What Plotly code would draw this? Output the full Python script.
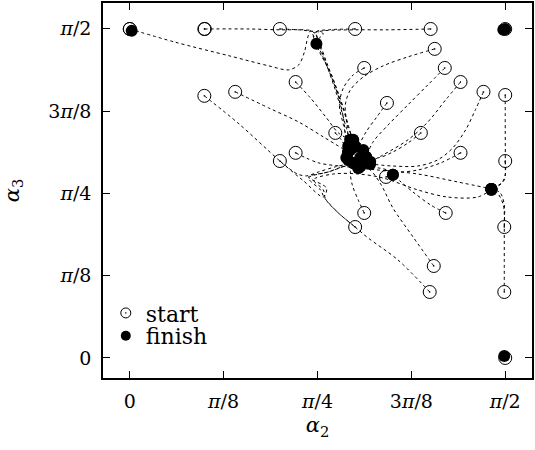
import math
import plotly.graph_objects as go

PI = math.pi

# ---- tick labels ----
tick_vals = [0, PI / 8, PI / 4, 3 * PI / 8, PI / 2]
tick_text = ["0", "<i>π</i>/8", "<i>π</i>/4", "3<i>π</i>/8", "<i>π</i>/2"]

# ---- trajectories (alpha2, alpha3) ----
A_x = [0.0, 0.187, 0.416, 0.582, 0.665, 0.707, 0.731, 0.744, 0.756, 0.773, 0.810, 0.852, 0.881, 0.898, 0.906]
A_y = [1.570, 1.508, 1.442, 1.394, 1.375, 1.399, 1.461, 1.527, 1.561, 1.527, 1.432, 1.317, 1.217, 1.112, 0.955]
B_x = [0.312, 0.499, 0.628, 0.727, 0.761, 0.781, 0.798, 0.831, 0.860, 0.885, 0.906, 0.923]
B_y = [1.570, 1.570, 1.566, 1.566, 1.561, 1.537, 1.480, 1.375, 1.279, 1.184, 1.098, 1.041]
C_x = [0.628, 0.707, 0.748, 0.790, 0.810, 0.786, 0.781]
C_y = [1.570, 1.566, 1.561, 1.556, 1.547, 1.518, 1.499]
D_x = [0.943, 0.831, 0.781, 0.798, 0.823, 0.860, 0.894, 0.914, 0.943]
D_y = [1.570, 1.566, 1.556, 1.494, 1.413, 1.303, 1.193, 1.112, 1.007]
E_x = [1.259, 1.081, 0.943, 0.810, 0.769, 0.790, 0.844, 0.873, 0.906, 0.914]
E_y = [1.570, 1.566, 1.566, 1.561, 1.547, 1.470, 1.351, 1.255, 1.136, 0.983]
F_x = [1.276, 1.164, 1.060, 0.977, 0.923, 0.902, 0.911, 0.935, 0.964]
F_y = [1.475, 1.437, 1.394, 1.341, 1.279, 1.208, 1.112, 1.041, 0.955]
G_x = [0.981, 0.935, 0.894, 0.877, 0.894, 0.914]
G_y = [1.384, 1.351, 1.289, 1.208, 1.112, 1.012]
H_x = [1.318, 1.247, 1.164, 1.081, 1.018, 0.989]
H_y = [1.384, 1.303, 1.208, 1.112, 1.031, 0.959]
I_x = [1.384, 1.322, 1.247, 1.164, 1.060, 1.006]
I_y = [1.317, 1.232, 1.126, 1.041, 0.969, 0.936]
J_x = [1.480, 1.446, 1.405, 1.351, 1.288, 1.205, 1.101, 1.006]
J_y = [1.270, 1.184, 1.088, 1.002, 0.945, 0.916, 0.916, 0.926]
K_x = [1.571, 1.571, 1.571, 1.567, 1.538, 1.513]
K_y = [1.255, 1.088, 0.940, 0.850, 0.821, 0.807]
L_x = [1.571, 1.571, 1.554, 1.513]
L_y = [0.940, 0.874, 0.831, 0.807]
M_x = [1.567, 1.567, 1.567, 1.567, 1.550, 1.513]
M_y = [0.315, 0.468, 0.625, 0.730, 0.788, 0.807]
N_x = [1.567, 1.563, 1.538, 1.513]
N_y = [0.625, 0.730, 0.788, 0.807]
O_x = [1.076, 1.031, 0.989, 0.964, 0.977]
O_y = [1.217, 1.146, 1.079, 1.017, 0.993]
P_x = [0.860, 0.885, 0.914]
P_y = [1.074, 1.041, 0.983]
Q_x = [1.218, 1.164, 1.101, 1.039, 0.989]
Q_y = [1.074, 1.026, 0.983, 0.955, 0.959]
R_x = [1.384, 1.301, 1.205, 1.122, 1.039, 0.956]
R_y = [0.979, 0.931, 0.897, 0.888, 0.907, 0.907]
S_x = [0.694, 0.756, 0.823, 0.873, 0.923]
S_y = [1.317, 1.241, 1.146, 1.074, 1.041]
T_x = [0.441, 0.582, 0.707, 0.810, 0.914]
T_y = [1.270, 1.193, 1.126, 1.055, 0.983]
U_x = [0.312, 0.457, 0.628, 0.727, 0.810, 0.823, 0.748, 0.831, 0.935]
U_y = [1.251, 1.117, 0.940, 0.845, 0.768, 0.811, 0.864, 0.888, 0.931]
V_x = [0.628, 0.702, 0.740, 0.790, 0.860, 0.935]
V_y = [0.940, 0.878, 0.869, 0.888, 0.912, 0.931]
W_x = [0.694, 0.790, 0.914, 1.039, 1.205, 1.372, 1.513]
W_y = [0.979, 0.931, 0.912, 0.897, 0.878, 0.840, 0.807]
X_x = [0.981, 0.956, 0.931, 0.923, 0.935]
X_y = [0.692, 0.754, 0.826, 0.888, 0.931]
Y_x = [0.943, 0.873, 0.819, 0.810, 0.769, 0.852, 0.956, 1.060, 1.205, 1.330, 1.455, 1.513]
Y_y = [0.625, 0.692, 0.759, 0.802, 0.850, 0.878, 0.878, 0.859, 0.802, 0.768, 0.768, 0.802]
Z_x = [1.255, 1.122, 0.997, 0.943, 0.873, 0.815, 0.798, 0.748, 0.831, 0.906, 0.956]
Z_y = [0.315, 0.468, 0.573, 0.625, 0.692, 0.764, 0.802, 0.859, 0.888, 0.916, 0.907]
AA_x = [1.272, 1.185, 1.101, 1.052, 1.006, 0.964]
AA_y = [0.439, 0.578, 0.716, 0.826, 0.897, 0.916]
AB_x = [1.322, 1.259, 1.185, 1.130, 1.101]
AB_y = [0.692, 0.730, 0.792, 0.845, 0.874]
AC_x = [1.072, 1.089, 1.101]
AC_y = [0.864, 0.869, 0.874]

trajectories = [
    (A_x, A_y), (B_x, B_y), (C_x, C_y), (D_x, D_y), (E_x, E_y), (F_x, F_y),
    (G_x, G_y), (H_x, H_y), (I_x, I_y), (J_x, J_y), (K_x, K_y), (L_x, L_y),
    (M_x, M_y), (N_x, N_y), (O_x, O_y), (P_x, P_y), (Q_x, Q_y), (R_x, R_y),
    (S_x, S_y), (T_x, T_y), (U_x, U_y), (V_x, V_y), (W_x, W_y), (X_x, X_y),
    (Y_x, Y_y), (Z_x, Z_y), (AA_x, AA_y), (AB_x, AB_y), (AC_x, AC_y),
]

# starts that do not move (fixed points) and an overlapping duplicate start
extra_start_x = [0.0, 1.571, 1.571, 0.314]
extra_start_y = [1.570, 1.570, 0.0, 1.570]
# finishes of fixed points and further finishes inside the central cluster
extra_finish_x = [0.008, 1.563, 1.571, 1.567, 0.935, 0.923, 0.977, 0.948, 0.997, 0.964, 0.914, 0.940]
extra_finish_y = [1.561, 1.566, 1.570, 0.010, 1.041, 0.993, 0.969, 0.931, 0.936, 0.912, 0.945, 1.017]

fig = go.Figure()

for tx, ty in trajectories:
    fig.add_trace(go.Scatter(
        x=tx, y=ty, mode="lines",
        line=dict(color="black", width=1, dash="3px,3px", shape="spline", smoothing=0.9),
        showlegend=False, hoverinfo="skip",
    ))

start_x = [t[0][0] for t in trajectories] + extra_start_x
start_y = [t[1][0] for t in trajectories] + extra_start_y
finish_x = [t[0][-1] for t in trajectories] + extra_finish_x
finish_y = [t[1][-1] for t in trajectories] + extra_finish_y

fig.add_trace(go.Scatter(
    x=start_x, y=start_y, mode="markers", name="start",
    marker=dict(symbol="circle-open-dot", size=13, color="black", line=dict(width=1)),
    showlegend=False,
))
fig.add_trace(go.Scatter(
    x=finish_x, y=finish_y, mode="markers", name="finish",
    marker=dict(symbol="circle", size=12, color="black"),
    showlegend=False,
))
# legend entries (one legend box per row so that their positions can be set)
fig.add_trace(go.Scatter(
    x=[None], y=[None], mode="markers", name="start", legend="legend",
    marker=dict(symbol="circle-open-dot", size=10, color="black", line=dict(width=1)),
))
fig.add_trace(go.Scatter(
    x=[None], y=[None], mode="markers", name="finish", legend="legend2",
    marker=dict(symbol="circle", size=10, color="black"),
))

font_family = "DejaVu Serif"
axis_common = dict(
    tickvals=tick_vals, ticktext=tick_text,
    ticks="inside", ticklen=7, tickwidth=1, tickcolor="black",
    showline=True, linecolor="black", linewidth=1.5, mirror="allticks",
    showgrid=False, zeroline=False,
    tickfont=dict(family=font_family, size=19, color="black"),
)
legend_common = dict(xanchor="left", yanchor="middle", bgcolor="rgba(0,0,0,0)",
                     font=dict(family=font_family, size=22, color="black"),
                     itemwidth=30, borderwidth=0)

fig.update_layout(
    width=535, height=450,
    margin=dict(l=103, r=1, t=3, b=72),
    paper_bgcolor="white", plot_bgcolor="white",
    font=dict(family=font_family, size=19, color="black"),
    xaxis=dict(range=[-0.112, 1.683], title=dict(text="<i>α</i><sub>2</sub>", standoff=7,
               font=dict(family=font_family, size=21)), ticklabelstandoff=5, **axis_common),
    yaxis=dict(range=[-0.0955, 1.694], title=dict(text="<i>α</i><sub>3</sub>", standoff=24,
               font=dict(family=font_family, size=21)), ticklabelstandoff=6, **axis_common),
    legend=dict(x=0.0065, y=0.173, **legend_common),
    legend2=dict(x=0.0065, y=0.112, **legend_common),
)

fig.write_html("out.html")
